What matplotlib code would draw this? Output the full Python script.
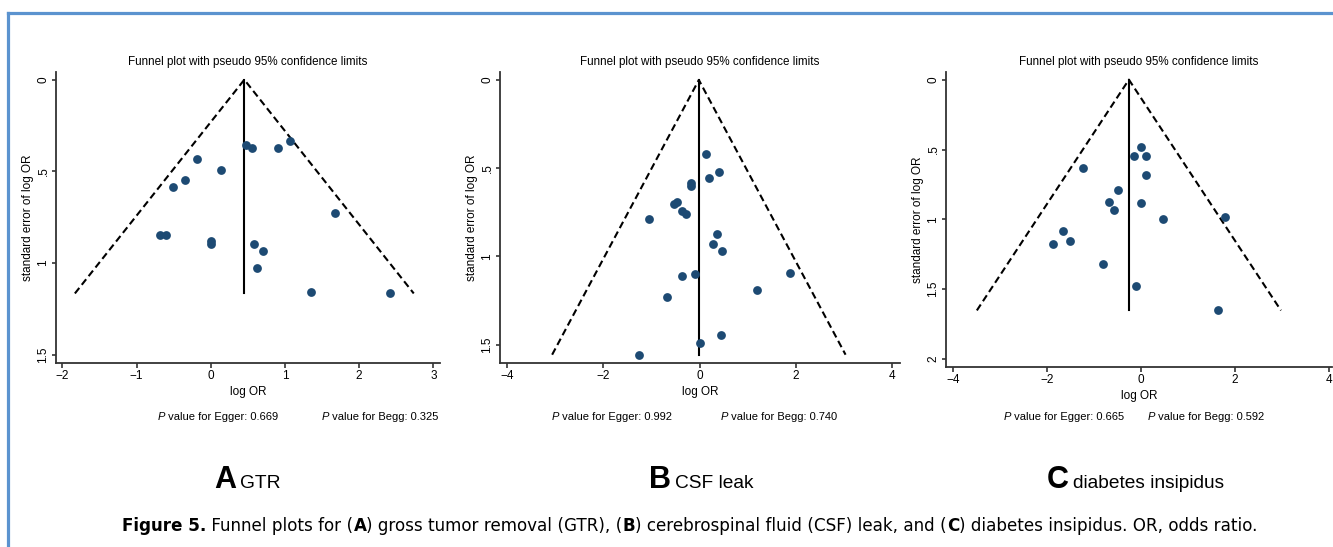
import matplotlib
matplotlib.use('Agg')
import matplotlib.pyplot as plt
from matplotlib.lines import Line2D

# ---- data ----
# A: gross tumor removal
gtr_logor = [0.47, 0.55, 0.91, 1.07, -0.18, 0.14, -0.34, -0.51, 1.68, -0.69,
             -0.60, 0.00, 0.00, 0.58, 0.71, 0.62, 1.35, 2.42]
gtr_se = [0.356, 0.371, 0.371, 0.335, 0.433, 0.493, 0.544, 0.587, 0.725, 0.845,
          0.849, 0.880, 0.893, 0.893, 0.935, 1.027, 1.158, 1.165]
gtr_pooled = 0.453
gtr_p = ('0.669', '0.325')

# B: CSF leak
csf_logor = [0.13, 0.40, 0.19, -0.17, -0.17, -0.46, -0.53, -0.37, -0.28, -1.05,
             0.37, 0.28, 0.46, 1.89, -0.10, -0.36, 1.19, -0.67, 0.44, 0.00, -1.26]
csf_se = [0.419, 0.520, 0.555, 0.586, 0.599, 0.690, 0.703, 0.741, 0.761, 0.786,
          0.871, 0.931, 0.969, 1.096, 1.101, 1.111, 1.192, 1.232, 1.445, 1.489, 1.557]
csf_pooled = -0.014
csf_p = ('0.992', '0.740')

# C: diabetes insipidus
di_logor = [0.00, -0.15, 0.11, -1.23, 0.11, -0.48, -0.68, 0.00, -0.57, 0.48,
            1.79, -1.65, -1.87, -1.52, -0.81, -0.10, 1.65]
di_se = [0.484, 0.544, 0.544, 0.635, 0.680, 0.790, 0.878, 0.883, 0.933, 1.000,
         0.986, 1.086, 1.174, 1.158, 1.317, 1.480, 1.652]
di_pooled = -0.255
di_p = ('0.665', '0.592')

panel_letters = ['A', 'B', 'C']
panel_names = ['GTR', 'CSF leak', 'diabetes insipidus']

SANS = 'Liberation Sans'
W, H = 1333, 547
DOT = '#1d4a73'
AXC = '#333333'
PT = 0.72  # points per pixel at 100 dpi

fig = plt.figure(figsize=(W / 100, H / 100), dpi=100)

# overlay in pixel coords for free text and the frame
over = fig.add_axes([0, 0, 1, 1])
over.set_xlim(0, W)
over.set_ylim(H, 0)
over.axis('off')
over.add_line(Line2D([7.5, W], [12.5, 12.5], color='#5b93cf', lw=2.3))
over.add_line(Line2D([7.5, 7.5], [12.5, H], color='#5b93cf', lw=2.3))


def px_box(left, top, right, bottom):
    return [left / W, 1 - bottom / H, (right - left) / W, (bottom - top) / H]


def chain(x, y, parts):
    # parts: (text, font props); bottoms of the text boxes are aligned
    prev = None
    for txt, props in parts:
        if prev is None:
            prev = over.text(x, y, txt, ha='left', va='bottom', **props)
        else:
            prev = over.annotate(txt, xy=(1, 0), xycoords=prev, ha='left',
                                 va='bottom', **props)
    return prev


def funnel(ax, logor, se, pooled, xlim, ylim, xticks, yticks, yticklabels):
    se_max = max(se)
    ax.plot([pooled - 1.96 * se_max, pooled, pooled + 1.96 * se_max],
            [se_max, 0, se_max], color='black', lw=1.5, ls=(0, (3.4, 1.9)))
    ax.plot([pooled, pooled], [0, se_max], color='black', lw=1.5)
    ax.scatter(logor, se, s=40, color=DOT, zorder=3, linewidths=0)
    ax.set_xlim(*xlim)
    ax.set_ylim(*ylim)
    ax.set_xticks(xticks)
    ax.set_yticks(yticks)
    ax.set_yticklabels(yticklabels, rotation=90, va='center')
    for s in ['top', 'right']:
        ax.spines[s].set_visible(False)
    for s in ['left', 'bottom']:
        ax.spines[s].set_color(AXC)
        ax.spines[s].set_linewidth(1.3)
    ax.tick_params(direction='out', length=4.5 * PT, width=1.2, color=AXC,
                   labelsize=8.5, pad=1.5)
    for lab in ax.get_xticklabels() + ax.get_yticklabels():
        lab.set_family(SANS)
    ax.set_title('Funnel plot with pseudo 95% confidence limits',
                 family=SANS, fontsize=8.4, pad=5)
    ax.annotate('log OR', xy=(0.5, 0), xycoords='axes fraction',
                xytext=(0, -29 * PT), textcoords='offset points',
                ha='center', va='center', family=SANS, fontsize=8.5)
    ax.annotate('standard error of log OR', xy=(0, 0.5), xycoords='axes fraction',
                xytext=(-28.5 * PT, 0), textcoords='offset points',
                ha='center', va='center', rotation=90, family=SANS, fontsize=8.5)


axA = fig.add_axes(px_box(56, 72, 440, 363))
funnel(axA, gtr_logor, gtr_se, gtr_pooled, (-2.085, 3.09), (1.544, -0.042),
       [-2, -1, 0, 1, 2, 3], [0, 0.5, 1, 1.5], ['0', '.5', '1', '1.5'])

axB = fig.add_axes(px_box(500, 72, 900, 363))
funnel(axB, csf_logor, csf_se, csf_pooled, (-4.15, 4.17), (1.604, -0.045),
       [-4, -2, 0, 2, 4], [0, 0.5, 1, 1.5], ['0', '.5', '1', '1.5'])

axC = fig.add_axes(px_box(946, 72, 1332, 367))
funnel(axC, di_logor, di_se, di_pooled, (-4.15, 4.07), (2.057, -0.055),
       [-4, -2, 0, 2, 4], [0, 0.5, 1, 1.5, 2], ['0', '.5', '1', '1.5', '2'])

# P values under each panel
it = dict(family=SANS, fontsize=8, style='italic')
rm = dict(family=SANS, fontsize=8)
p_pos = [(158, 322), (552, 721), (1004, 1148)]
for (xe, xb), (pe, pb) in zip(p_pos, [gtr_p, csf_p, di_p]):
    chain(xe, 422, [('P', it), (' value for Egger: ' + pe, rm)])
    chain(xb, 422, [('P', it), (' value for Begg: ' + pb, rm)])

# panel captions
letter_x = [236, 671, 1069]
for lx, letter, name in zip(letter_x, panel_letters, panel_names):
    over.text(lx, 488, letter, ha='right', va='baseline', family=SANS,
              fontweight='bold', fontsize=22)
    over.text(lx + 4, 488, name, ha='left', va='baseline', family=SANS,
              fontsize=13.8)

# figure caption
bf = dict(family='DejaVu Sans', fontsize=12.1, fontweight='bold')
nf = dict(family='DejaVu Sans', fontsize=12.1)
chain(122, 535, [('Figure 5.', bf), (' Funnel plots for (', nf), ('A', bf),
                 (') gross tumor removal (GTR), (', nf), ('B', bf),
                 (') cerebrospinal fluid (CSF) leak, and (', nf), ('C', bf),
                 (') diabetes insipidus. OR, odds ratio.', nf)])

fig.savefig('out.png', dpi=100)
